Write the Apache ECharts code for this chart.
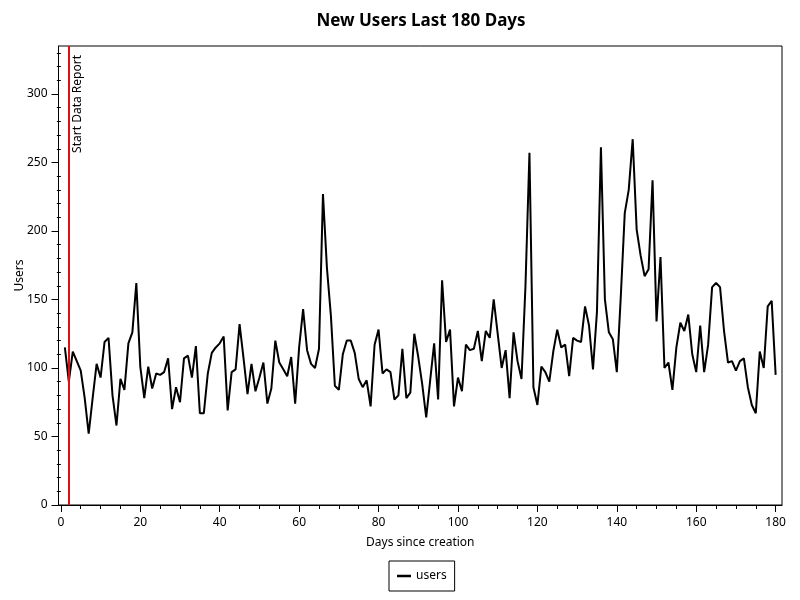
<!DOCTYPE html>
<html>
<head>
<meta charset="utf-8">
<script src="https://cdn.jsdelivr.net/npm/echarts@6/dist/echarts.min.js"></script>
<style>html,body{margin:0;padding:0;background:#fff}#c{width:800px;height:600px}</style>
</head>
<body>
<div id="c"></div>
<script>
const chartTitle = 'New Users Last 180 Days';
const seriesName = 'users';
const xAxisName = 'Days since creation';
const yAxisName = 'Users';
const firstDay = 1;
const users = [
 115, 90, 112, 105, 98, 78, 52, 78, 103, 93,
 119, 122, 80, 58, 92, 84, 118, 126, 162, 101,
 78, 101, 85, 96, 95, 97, 107, 70, 86, 75,
 107, 109, 93, 116, 67, 67, 96, 111, 115, 118,
 123, 69, 97, 99, 132, 107, 81, 103, 83, 93,
 104, 74, 85, 120, 104, 99, 94, 108, 74, 115,
 143, 113, 103, 100, 114, 227, 173, 138, 87, 84,
 110, 120, 120, 111, 92, 86, 91, 72, 117, 128,
 96, 99, 97, 77, 80, 114, 78, 82, 125, 108,
 88, 64, 91, 118, 77, 164, 119, 128, 72, 93,
 83, 117, 113, 114, 127, 105, 127, 122, 150, 125,
 100, 113, 78, 126, 105, 92, 160, 257, 86, 73,
 101, 97, 90, 112, 128, 115, 117, 94, 122, 120,
 119, 145, 131, 99, 141, 261, 150, 126, 121, 97,
 152, 213, 230, 267, 201, 182, 167, 172, 237, 134,
 181, 100, 104, 84, 115, 133, 127, 139, 110, 97,
 131, 97, 117, 159, 162, 159, 127, 104, 105, 98,
 105, 107, 86, 73, 67, 112, 100, 145, 149, 95
];
const xMajorTicks = [0, 20, 40, 60, 80, 100, 120, 140, 160, 180];
const xMinorTicks = [5, 10, 15, 25, 30, 35, 45, 50, 55, 65, 70, 75, 85, 90, 95, 105, 110, 115, 125, 130, 135, 145, 150, 155, 165, 170, 175];
const yMajorTicks = [0, 50, 100, 150, 200, 250, 300];
const yMinorTicks = [10, 20, 30, 40, 60, 70, 80, 90, 110, 120, 130, 140, 160, 170, 180, 190, 210, 220, 230, 240, 260, 270, 280, 290, 310, 320, 330];
const markerDay = 2;
const markerLabel = 'Start Data Report';

const FONT = 'Noto Sans';
const data = users.map((v, i) => [firstDay + i, v]);
const xMin = -0.6, xMax = 181.6, yMin = 0, yMax = 335;

const chart = echarts.init(document.getElementById('c'), null, {renderer: 'canvas'});
chart.setOption({
  animation: false,
  backgroundColor: '#fff',
  textStyle: {fontFamily: FONT},
  title: {
    text: chartTitle, left: 416, top: 8, textAlign: 'center',
    textStyle: {fontFamily: FONT, fontSize: 17, fontWeight: 'bold', color: '#000'}
  },
  grid: {left: 58.5, right: 18, top: 46, bottom: 95, show: true, borderColor: '#000', borderWidth: 1,
         backgroundColor: 'transparent', containLabel: false, outerBoundsMode: 'none'},
  legend: {
    data: [seriesName], left: 389, top: 561, orient: 'horizontal',
    borderColor: '#000', borderWidth: 1, padding: [9, 8, 9, 8],
    icon: 'rect', itemWidth: 14, itemHeight: 2.5, itemGap: 4,
    textStyle: {fontFamily: FONT, fontSize: 12, color: '#000'}
  },
  xAxis: [{
    type: 'value', min: xMin, max: xMax, position: 'bottom',
    name: xAxisName, nameLocation: 'middle', nameGap: 32, nameMoveOverlap: false,
    nameTextStyle: {fontFamily: FONT, fontSize: 12, color: '#000'},
    axisLine: {show: true, onZero: false, lineStyle: {color: '#000', width: 1}},
    axisTick: {show: true, length: 7, customValues: xMajorTicks, lineStyle: {color: '#000'}},
    axisLabel: {customValues: xMajorTicks, margin: 12, fontFamily: FONT, fontSize: 12, color: '#000'},
    splitLine: {show: false}
  }, {
    type: 'value', min: xMin, max: xMax, position: 'bottom',
    axisLine: {show: false},
    axisTick: {show: true, length: 4, customValues: xMinorTicks, lineStyle: {color: '#000'}},
    axisLabel: {show: false},
    splitLine: {show: false}
  }],
  yAxis: [{
    type: 'value', min: yMin, max: yMax, position: 'left',
    name: yAxisName, nameLocation: 'middle', nameGap: 33, nameRotate: 90, nameMoveOverlap: false,
    nameTextStyle: {fontFamily: FONT, fontSize: 12, color: '#000'},
    axisLine: {show: true, onZero: false, lineStyle: {color: '#000', width: 1}},
    axisTick: {show: true, length: 7, customValues: yMajorTicks, lineStyle: {color: '#000'}},
    axisLabel: {customValues: yMajorTicks, margin: 11, fontFamily: FONT, fontSize: 12, color: '#000'},
    splitLine: {show: false}
  }, {
    type: 'value', min: yMin, max: yMax, position: 'left',
    axisLine: {show: false},
    axisTick: {show: true, length: 4, customValues: yMinorTicks, lineStyle: {color: '#000'}},
    axisLabel: {show: false},
    splitLine: {show: false}
  }],
  series: [{
    name: seriesName, type: 'line', data: data, xAxisIndex: 0, yAxisIndex: 0,
    showSymbol: false, symbol: 'none',
    lineStyle: {color: '#000', width: 2}, itemStyle: {color: '#000'},
    markLine: {
      silent: true, symbol: ['none', 'none'],
      lineStyle: {color: '#dd1111', width: 2, type: 'solid'},
      label: {show: true, formatter: markerLabel, position: 'insideEndBottom', distance: [9, 3],
              fontFamily: FONT, fontSize: 12, color: '#000'},
      data: [{xAxis: markerDay}]
    }
  }]
});
</script>
</body>
</html>
